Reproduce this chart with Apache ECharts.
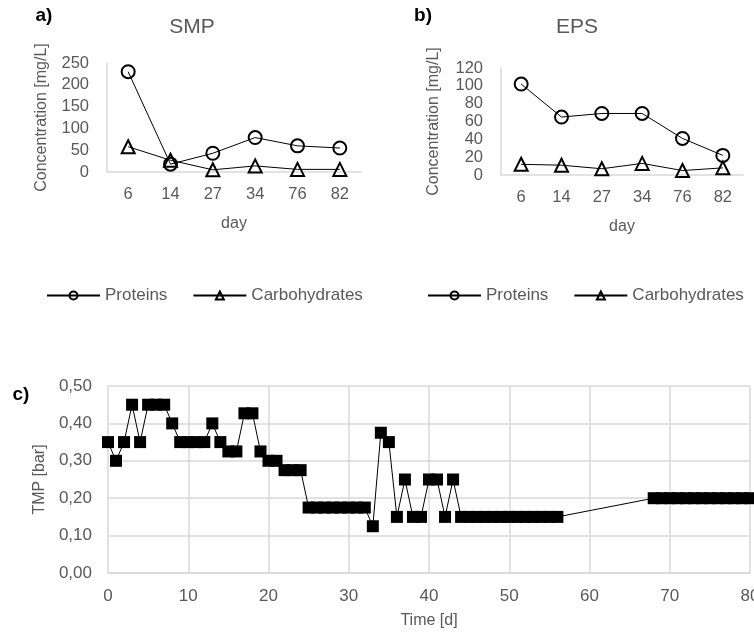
<!DOCTYPE html>
<html>
<head>
<meta charset="utf-8">
<script src="https://cdn.jsdelivr.net/npm/echarts@6/dist/echarts.min.js"></script>
<style>
  html, body { margin: 0; padding: 0; background: #fff; }
  #chart { width: 754px; height: 636px; }
</style>
</head>
<body>
<div id="chart"></div>
<script>
// panels a) and b): sampling days (category axis)
const dayCategories = ['6', '14', '27', '34', '76', '82']
const smpProteins = [230, 18, 43, 79, 60, 55]
const smpCarbohydrates = [58, 27, 5, 14, 6, 6]
const epsProteins = [102, 65, 69, 69, 41, 22]
const epsCarbohydrates = [12, 11, 7, 13, 5, 8]

// panel c): TMP over time
const tmpDays = [
  0, 1, 2, 3, 4, 5, 6, 7, 8, 9, 10, 11, 12, 13, 14, 15, 16, 17, 18, 19,
  20, 21, 22, 23, 24, 25, 26, 27, 28, 29, 30, 31, 32, 33, 34, 35, 36, 37, 38, 39,
  40, 41, 42, 43, 44, 45, 46, 47, 48, 49, 50, 51, 52, 53, 54, 55, 56,
  68, 69, 70, 71, 72, 73, 74, 75, 76, 77, 78, 79, 80
]
const tmpValues = [
  0.35, 0.30, 0.35, 0.45, 0.35, 0.45, 0.45, 0.45, 0.40, 0.35, 0.35, 0.35, 0.35, 0.40, 0.35, 0.325, 0.325, 0.427, 0.427, 0.325,
  0.30, 0.30, 0.275, 0.275, 0.275, 0.175, 0.175, 0.175, 0.175, 0.175, 0.175, 0.175, 0.175, 0.125, 0.375, 0.35, 0.15, 0.25, 0.15, 0.15,
  0.25, 0.25, 0.15, 0.25, 0.15, 0.15, 0.15, 0.15, 0.15, 0.15, 0.15, 0.15, 0.15, 0.15, 0.15, 0.15, 0.15,
  0.20, 0.20, 0.20, 0.20, 0.20, 0.20, 0.20, 0.20, 0.20, 0.20, 0.20, 0.20, 0.20
]

const font = 'Liberation Sans'
const grey = '#595959'
const lightGrey = '#d9d9d9'

const catAxis = (gridIndex) => ({
  type: 'category',
  gridIndex,
  data: dayCategories,
  name: 'day',
  nameLocation: 'middle',
  nameGap: 44,
  nameTextStyle: {color: grey, fontSize: 16, fontFamily: font},
  axisLine: {lineStyle: {color: lightGrey, width: 1.5}},
  axisTick: {show: false},
  axisLabel: {color: grey, fontSize: 16.5, fontFamily: font, margin: 14}
})

const concAxis = (gridIndex, max, interval, nameGap) => ({
  type: 'value',
  gridIndex,
  min: 0,
  max,
  interval,
  name: 'Concentration [mg/L]',
  nameLocation: 'middle',
  nameGap,
  nameTextStyle: {color: grey, fontSize: 16, fontFamily: font},
  axisLine: {show: true, lineStyle: {color: lightGrey, width: 1.5}},
  axisTick: {show: false},
  splitLine: {show: false},
  axisLabel: {color: grey, fontSize: 16.5, fontFamily: font, margin: 18}
})

const concSeries = (name, data, idx, symbol) => ({
  name,
  type: 'line',
  xAxisIndex: idx,
  yAxisIndex: idx,
  data,
  symbol,
  symbolSize: 13,
  lineStyle: {color: '#000', width: 1},
  itemStyle: {color: 'rgba(0,0,0,0)', borderColor: '#000', borderWidth: 2},
  z: 3
})

const legendStyle = {
  data: ['Proteins', 'Carbohydrates'],
  top: 282,
  itemWidth: 53,
  itemHeight: 10,
  itemGap: 25,
  textStyle: {color: grey, fontSize: 17, fontFamily: font}
}

const label = (text, x, y, size, bold) => ({
  type: 'text',
  x, y,
  style: {
    text,
    fill: bold ? '#000' : grey,
    font: `${bold ? 'bold ' : ''}${size}px "${font}"`,
    textAlign: 'center',
    textVerticalAlign: 'middle'
  }
})

const chart = echarts.init(document.getElementById('chart'))
chart.setOption({
  animation: false,
  backgroundColor: '#fff',
  graphic: [
    label('a)', 44, 16, 19, true),
    label('SMP', 192, 27, 21, false),
    label('b)', 423, 16, 19, true),
    label('EPS', 577, 27, 21, false),
    label('c)', 21, 395, 19, true)
  ],
  legend: [
    Object.assign({}, legendStyle, {left: 41}),
    Object.assign({}, legendStyle, {left: 422})
  ],
  grid: [
    {left: 107, top: 63, width: 254, height: 109, outerBoundsMode: 'none'},
    {left: 501, top: 68, width: 242, height: 107, outerBoundsMode: 'none'},
    {left: 108, top: 386, width: 642, height: 187, outerBoundsMode: 'none'}
  ],
  xAxis: [
    catAxis(0),
    catAxis(1),
    {
      type: 'value',
      gridIndex: 2,
      min: 0,
      max: 80,
      interval: 10,
      name: 'Time [d]',
      nameLocation: 'middle',
      nameGap: 40,
      nameTextStyle: {color: grey, fontSize: 16, fontFamily: font},
      axisLine: {lineStyle: {color: lightGrey, width: 1.5}},
      axisTick: {show: false},
      splitLine: {show: true, lineStyle: {color: lightGrey, width: 1.5}},
      axisLabel: {color: grey, fontSize: 17, fontFamily: font, margin: 15}
    }
  ],
  yAxis: [
    concAxis(0, 250, 50, 57),
    concAxis(1, 120, 20, 59),
    {
      type: 'value',
      gridIndex: 2,
      min: 0,
      max: 0.5,
      interval: 0.1,
      name: 'TMP [bar]',
      nameLocation: 'middle',
      nameGap: 60,
      nameTextStyle: {color: grey, fontSize: 16, fontFamily: font},
      axisLine: {show: false},
      axisTick: {show: false},
      splitLine: {show: true, lineStyle: {color: lightGrey, width: 1.5}},
      axisLabel: {
        color: grey, fontSize: 17, fontFamily: font, margin: 16,
        formatter: (v) => v.toFixed(2).replace('.', ',')
      }
    }
  ],
  series: [
    concSeries('Proteins', smpProteins, 0, 'circle'),
    concSeries('Carbohydrates', smpCarbohydrates, 0, 'triangle'),
    concSeries('Proteins', epsProteins, 1, 'circle'),
    concSeries('Carbohydrates', epsCarbohydrates, 1, 'triangle'),
    {
      name: 'TMP',
      type: 'line',
      xAxisIndex: 2,
      yAxisIndex: 2,
      data: tmpDays.map((d, i) => [d, tmpValues[i]]),
      symbol: 'rect',
      symbolSize: 12,
      clip: false,
      lineStyle: {color: '#000', width: 1},
      itemStyle: {color: '#000'}
    }
  ]
})
</script>
</body>
</html>
